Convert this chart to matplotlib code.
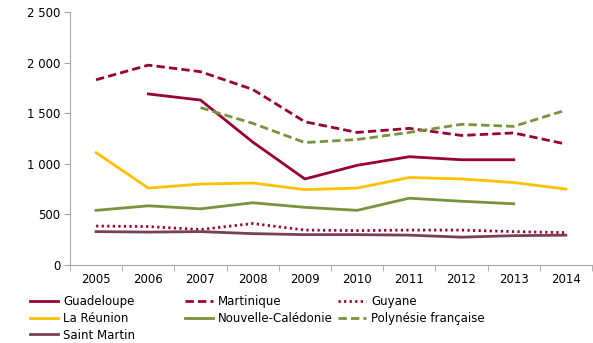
import matplotlib
matplotlib.use("Agg")
import matplotlib.pyplot as plt
import numpy as np

years = ["2005", "2006", "2007", "2008", "2009", "2010", "2011", "2012", "2013", "2014"]
nan = np.nan
guadeloupe = [nan, 1690, 1630, 1215, 850, 985, 1070, 1040, 1040, nan]
martinique = [1830, 1975, 1910, 1735, 1415, 1310, 1350, 1280, 1305, 1195]
guyane = [385, 380, 350, 410, 345, 340, 345, 345, 330, 320]
reunion = [1110, 760, 800, 810, 745, 760, 865, 850, 815, 750]
caledonie = [540, 585, 555, 615, 570, 540, 660, 630, 605, nan]
polynesie = [nan, nan, 1555, 1400, 1210, 1240, 1310, 1390, 1370, 1530]
saint_martin = [330, 325, 330, 310, 300, 300, 295, 275, 290, 295]

RED = "#990033"
YEL = "#FFC000"
GRN = "#77933C"
PUR = "#7B3F55"

plt.rcParams['font.family'] = ['DejaVu Sans']
fig = plt.figure(figsize=(5.93, 3.43), dpi=100)
ax = fig.add_axes([70/593, 78/343, 522/593, 253/343])
x = np.arange(len(years))
series = [
    ("Guadeloupe", guadeloupe, RED, "-"),
    ("Martinique", martinique, RED, (0, (3, 1.5))),
    ("Guyane", guyane, RED, (0, (0.8, 1.2))),
    ("La Réunion", reunion, YEL, "-"),
    ("Nouvelle-Calédonie", caledonie, GRN, "-"),
    ("Polynésie française", polynesie, GRN, (0, (3, 1.5))),
    ("Saint Martin", saint_martin, PUR, "-"),
]
handles = []
for name, vals, c, ls in series:
    h, = ax.plot(x, vals, color=c, linestyle=ls, lw=2, label=name)
    handles.append(h)

ax.set_xlim(-0.5, len(years) - 0.5)
ax.set_ylim(0, 2500)
ax.set_yticks(np.arange(0, 2501, 500))
ax.set_yticklabels([f"{v:,}".replace(",", " ") for v in range(0, 2501, 500)], fontsize=8.5)
ax.set_xticks(x)
ax.set_xticklabels(years, fontsize=8.5)
ax.set_xticks(np.arange(-0.5, len(years)), minor=True)
ax.tick_params(axis='x', which='major', length=0, pad=6)
ax.tick_params(axis='x', which='minor', length=4, color="#A6A6A6")
ax.tick_params(axis='y', length=4, color="#A6A6A6", pad=3)
for s in ["top", "right"]:
    ax.spines[s].set_visible(False)
for s in ["left", "bottom"]:
    ax.spines[s].set_color("#A6A6A6")
ax.patch.set_alpha(0)

cols = [[0, 3, 6], [1, 4], [2, 5]]
xs = [30, 185, 338]
for xi, idx in zip(xs, cols):
    fig.legend([handles[i] for i in idx], [series[i][0] for i in idx],
               loc="upper left", bbox_to_anchor=(xi/593, 1 - 295/343),
               frameon=False, fontsize=8.5, handlelength=2.4, handletextpad=0.4,
               labelspacing=0.32, borderaxespad=0, borderpad=0)
fig.savefig("out.png", dpi=100)
